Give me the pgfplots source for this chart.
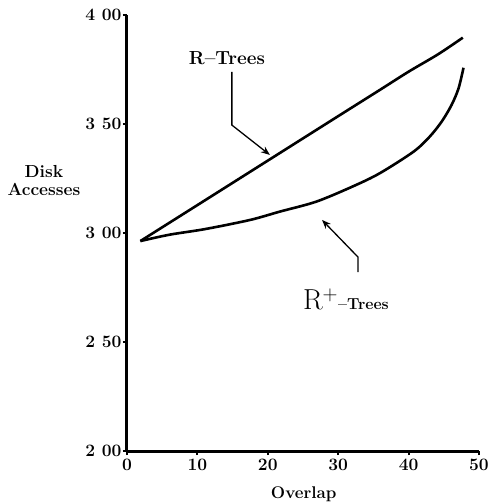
\documentclass[border=0pt]{standalone}
\usepackage{fontspec}
\usepackage{pgfplots}
\pgfplotsset{compat=1.18}
\usetikzlibrary{arrows.meta}

\begin{document}
\begin{tikzpicture}
\path[use as bounding box] (-127bp,-53bp) rectangle (363bp,451bp);
\begin{axis}[
  scale only axis, width=352bp, height=436bp,
  xmin=0, xmax=50, ymin=200, ymax=400,
  axis x line=bottom, axis y line=left,
  axis line style={-, line width=3bp},
  xtick={0,10,20,30,40,50},
  xticklabels={0,10,20,30,40,50},
  ytick={200,250,300,350,400},
  yticklabels={2\ 00,2\ 50,3\ 00,3\ 50,4\ 00},
  tick align=outside, major tick length=4bp,
  tick style={line width=2bp, black},
  tick label style={font=\fontsize{17.5}{19}\selectfont\bfseries},
  yticklabel style={xshift=2bp},
  xticklabel style={yshift=-1bp},
  clip=false,
]
% R-Trees
\addplot[black, line width=2.6bp, smooth] coordinates {
  (1.9,296.3) (10,312.8) (20,333.2) (30,353.6) (35.9,365.6) (40,374.0) (44.2,382.0) (47.7,389.6)
};
% R+-Trees
\addplot[black, line width=2.6bp, smooth] coordinates {
  (1.9,296.3) (6,299.2) (11.1,301.8) (17.5,306.0) (21.7,309.8) (26.9,314.4)
  (32.1,321.4) (35.9,327.4) (40.7,337.3) (43.0,344.2) (44.7,351.1)
  (46.1,358.7) (47.1,366.4) (47.8,375.8)
};
% annotations
\node[font=\fontsize{19}{21}\selectfont\bfseries] at (axis cs:14.2,380.3) {R--Trees};
\draw[line width=1.3bp, -{Stealth[length=9bp,width=7bp]}]
  (axis cs:14.9,373.9) -- (axis cs:14.9,349.5) -- (axis cs:20.3,335.8);
\draw[line width=1.3bp, -{Stealth[length=9bp,width=7bp]}]
  (axis cs:32.8,282.1) -- (axis cs:32.8,289.0) -- (axis cs:27.7,306.0);
\node[anchor=base, inner sep=0pt] at (axis cs:31.1,265)
  {\fontsize{29}{31}\selectfont R$^{+}$\fontsize{16}{18}\selectfont\bfseries--Trees};
\node[align=center, font=\fontsize{17.5}{18}\selectfont\bfseries] at (axis cs:-11.8,324) {Disk\\Accesses};
\node[font=\fontsize{17}{19}\selectfont\bfseries] at (axis cs:25.1,180) {Overlap};
\end{axis}
\end{tikzpicture}
\end{document}
